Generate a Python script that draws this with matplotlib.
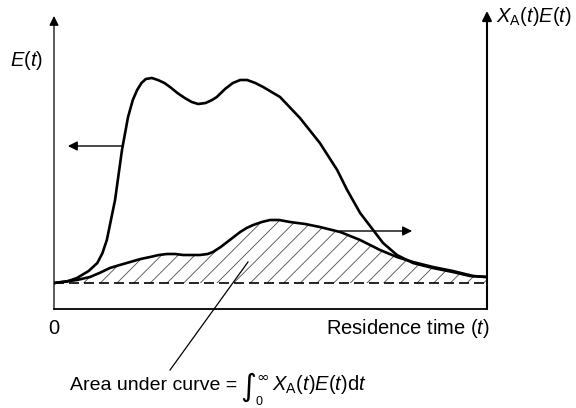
import matplotlib
matplotlib.use('Agg')
import matplotlib.pyplot as plt

plt.rcParams['font.family'] = ['Liberation Sans', 'DejaVu Sans']
plt.rcParams['mathtext.fontset'] = 'custom'
plt.rcParams['mathtext.rm'] = 'Liberation Sans'
plt.rcParams['mathtext.it'] = 'Liberation Sans:italic'
plt.rcParams['hatch.linewidth'] = 0.6

# residence time (arbitrary units) and E(t)
t_e = [0, 0.3, 0.53, 0.8, 1.0, 1.12, 1.22, 1.41, 1.57, 1.71, 1.82, 1.92, 2.02, 2.12,
       2.26, 2.40, 2.55, 2.68, 2.85, 3.02, 3.18, 3.33, 3.50, 3.65, 3.76, 3.95, 4.13,
       4.30, 4.46, 4.65, 4.83, 5.22, 5.68, 6.14, 6.54, 6.77, 7.07, 7.37, 7.60,
       7.92, 8.29, 8.75, 9.21, 9.61, 10]
e_t = [0, 0.015, 0.05, 0.12, 0.20, 0.30, 0.43, 0.83, 1.33, 1.66, 1.83, 1.93, 2.00, 2.04,
       2.05, 2.03, 2.00, 1.96, 1.90, 1.85, 1.81, 1.79, 1.80, 1.83, 1.86, 1.94, 2.00,
       2.03, 2.03, 2.00, 1.96, 1.86, 1.65, 1.40, 1.13, 0.93, 0.70, 0.53, 0.40,
       0.28, 0.20, 0.15, 0.11, 0.07, 0.06]

# X_A(t) E(t)
t_xe = [0, 0.53, 0.83, 1.05, 1.29, 1.52, 1.76, 2.0, 2.22, 2.42, 2.61, 2.80, 2.98, 3.18,
        3.37, 3.55, 3.67, 3.85, 4.0, 4.15, 4.30, 4.45, 4.60, 4.80, 4.99, 5.20,
        5.45, 5.80, 6.14, 6.61, 7.07, 7.53, 7.92, 8.29, 8.75, 9.21, 9.68, 10]
xe_t = [0, 0.03, 0.06, 0.10, 0.15, 0.18, 0.21, 0.24, 0.26, 0.28, 0.29, 0.29, 0.28, 0.28,
        0.28, 0.29, 0.31, 0.36, 0.41, 0.46, 0.51, 0.55, 0.58, 0.61, 0.63, 0.63,
        0.61, 0.59, 0.56, 0.51, 0.43, 0.33, 0.26, 0.21, 0.16, 0.12, 0.07, 0.06]

fig = plt.figure(figsize=(5.76, 4.08), dpi=100)
ax = fig.add_axes([54/576, 99/408, 433/576, 296/408])
ax.set_xlim(0, 10)
ax.set_ylim(-0.26, 2.70)
ax.axis('off')

arrow = dict(arrowstyle='-|>', color='k', lw=1.0, mutation_scale=14, shrinkA=0, shrinkB=0)

# frame: bottom line, left and right axes with arrows
ax.plot([0, 1], [0, 0], transform=ax.transAxes, color='k', lw=1.3, clip_on=False)
ax.annotate('', xy=(0, 2.67), xytext=(0, -0.26), arrowprops=dict(arrow, lw=0.9),
            annotation_clip=False)
ax.annotate('', xy=(10, 2.72), xytext=(10, -0.26), arrowprops=dict(arrow, lw=1.5),
            annotation_clip=False)

ax.axhline(0, color='k', lw=1.2, ls=(0, (6, 3)))
ax.fill_between(t_xe, 0, xe_t, facecolor='none', edgecolor='0.3', hatch='//', lw=0)
ax.plot(t_e, e_t, color='k', lw=1.9, solid_joinstyle='round')
ax.plot(t_xe, xe_t, color='k', lw=1.9, solid_joinstyle='round')

# arrows pointing to the axes each curve belongs to
ax.annotate('', xy=(0.32, 1.37), xytext=(1.57, 1.37), arrowprops=arrow)
ax.annotate('', xy=(8.27, 0.52), xytext=(6.61, 0.52), arrowprops=arrow)

# leader line for the area label
ax.plot([4.48, 2.68], [0.21, -0.87], color='k', lw=0.9, clip_on=False)

fs = 14.5
fig.text(27/576, 1 - 60/408, '$E(t)$', fontsize=fs, ha='center', va='center')
fig.text(496/576, 1 - 16/408, r'$X_{\mathrm{A}}(t)E(t)$', fontsize=fs, ha='left', va='center')
fig.text(54/576, 1 - 328/408, '0', fontsize=fs, ha='center', va='center')
fig.text(490/576, 1 - 328/408, 'Residence time ($t$)', fontsize=fs, ha='right', va='center')

fig.text(70/576, 1 - 385/408, 'Area under curve =', fontsize=14, ha='left', va='center')
fig.text(248/576, 1 - 387/408, '\u222b', fontsize=22, family='DejaVu Sans',
         style='italic', ha='center', va='center')
fig.text(263/576, 1 - 377/408, '\u221e', fontsize=11, family='DejaVu Sans',
         ha='center', va='center')
fig.text(259/576, 1 - 402/408, '0', fontsize=9, ha='center', va='center')
fig.text(272/576, 1 - 385/408, r'$X_{\mathrm{A}}(t)E(t)\mathrm{d}t$', fontsize=fs,
         ha='left', va='center')

fig.savefig('out.png', dpi=100)
